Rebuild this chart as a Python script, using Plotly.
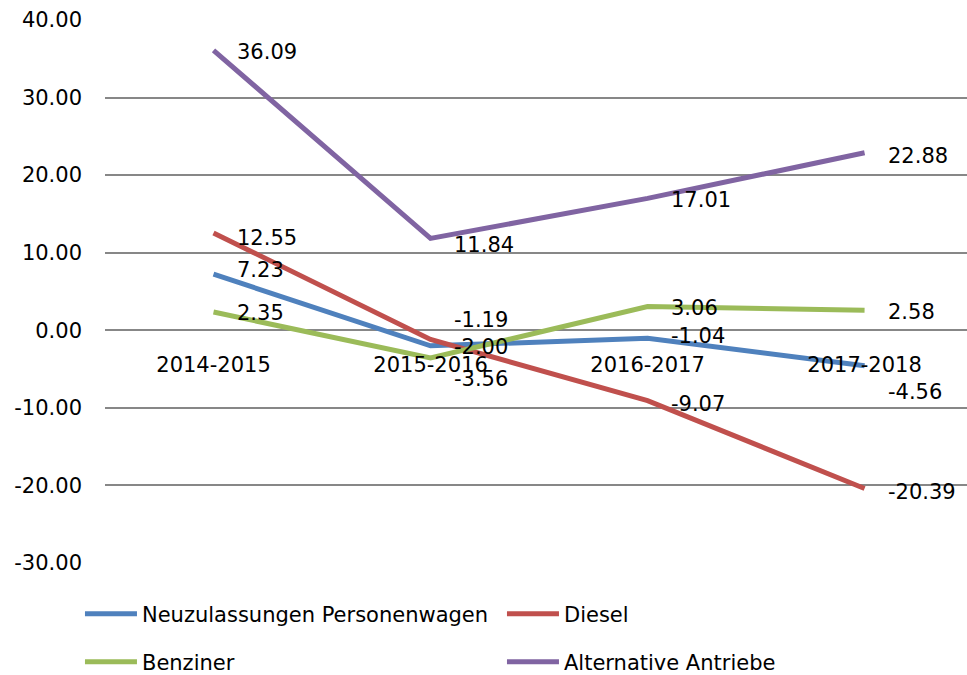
import plotly.graph_objects as go

categories = ["2014-2015", "2015-2016", "2016-2017", "2017-2018"]
neuzulassungen = [7.23, -2.00, -1.04, -4.56]
diesel = [12.55, -1.19, -9.07, -20.39]
benziner = [2.35, -3.56, 3.06, 2.58]
alternative = [36.09, 11.84, 17.01, 22.88]
y_ticks = [-30, -20, -10, 0, 10, 20, 30, 40]
y_tick_labels = ["-30.00", "-20.00", "-10.00", "0.00", "10.00", "20.00", "30.00", "40.00"]

# label vertical offsets (px, downward) for each data label
series = [
    ("Neuzulassungen Personenwagen", neuzulassungen, "#4F81BD", "legend", [-4, 1, -2, 26]),
    ("Diesel", diesel, "#C0504D", "legend", [5, -20, 3, 4]),
    ("Benziner", benziner, "#9BBB59", "legend2", [1, 21, 1, 2]),
    ("Alternative Antriebe", alternative, "#8064A2", "legend2", [2, 7, 2, 3]),
]

FONT = "DejaVu Sans"
fig = go.Figure()
for name, vals, color, leg, dys in series:
    fig.add_trace(go.Scatter(
        x=categories, y=vals, name=name, legend=leg,
        mode="lines",
        line=dict(color=color, width=5),
        hoverinfo="skip",
    ))
    for c, v, dy in zip(categories, vals, dys):
        fig.add_annotation(
            x=c, y=v, text=f"{v:.2f}", showarrow=False,
            xanchor="left", yanchor="middle", xshift=21, yshift=-dy,
            font=dict(family=FONT, size=21, color="black"),
        )

grid = "#878787"
legend_common = dict(
    orientation="h", xref="container", yref="container",
    x=0.0827, xanchor="left", yanchor="middle",
    entrywidth=355, entrywidthmode="pixels", itemwidth=52,
    font=dict(family=FONT, size=21, color="black"),
    bgcolor="rgba(0,0,0,0)",
)
fig.update_layout(
    width=967, height=675,
    margin=dict(l=105, r=0, t=20, b=112),
    paper_bgcolor="white", plot_bgcolor="white",
    font=dict(family=FONT, size=21, color="black"),
    xaxis=dict(
        type="category", range=[-0.5, 3.472],
        anchor="free", position=30 / 70, automargin=False,
        showgrid=False, showline=False, zeroline=False,
        ticks="", ticklabelstandoff=20,
        tickfont=dict(family=FONT, size=21, color="black"),
    ),
    yaxis=dict(
        range=[-30, 40], tickvals=y_ticks, ticktext=y_tick_labels,
        automargin=False,
        showgrid=True, gridcolor=grid, gridwidth=1.5,
        zeroline=True, zerolinecolor=grid, zerolinewidth=1.5,
        showline=False, ticks="", ticklabelstandoff=22,
        tickfont=dict(family=FONT, size=21, color="black"),
    ),
    legend=dict(legend_common, y=1 - 614 / 675),
    legend2=dict(legend_common, y=1 - 662 / 675),
)

fig.write_html(
    "out.html",
    config={"displayModeBar": False},
    post_script="document.body.style.margin='0';",
)
